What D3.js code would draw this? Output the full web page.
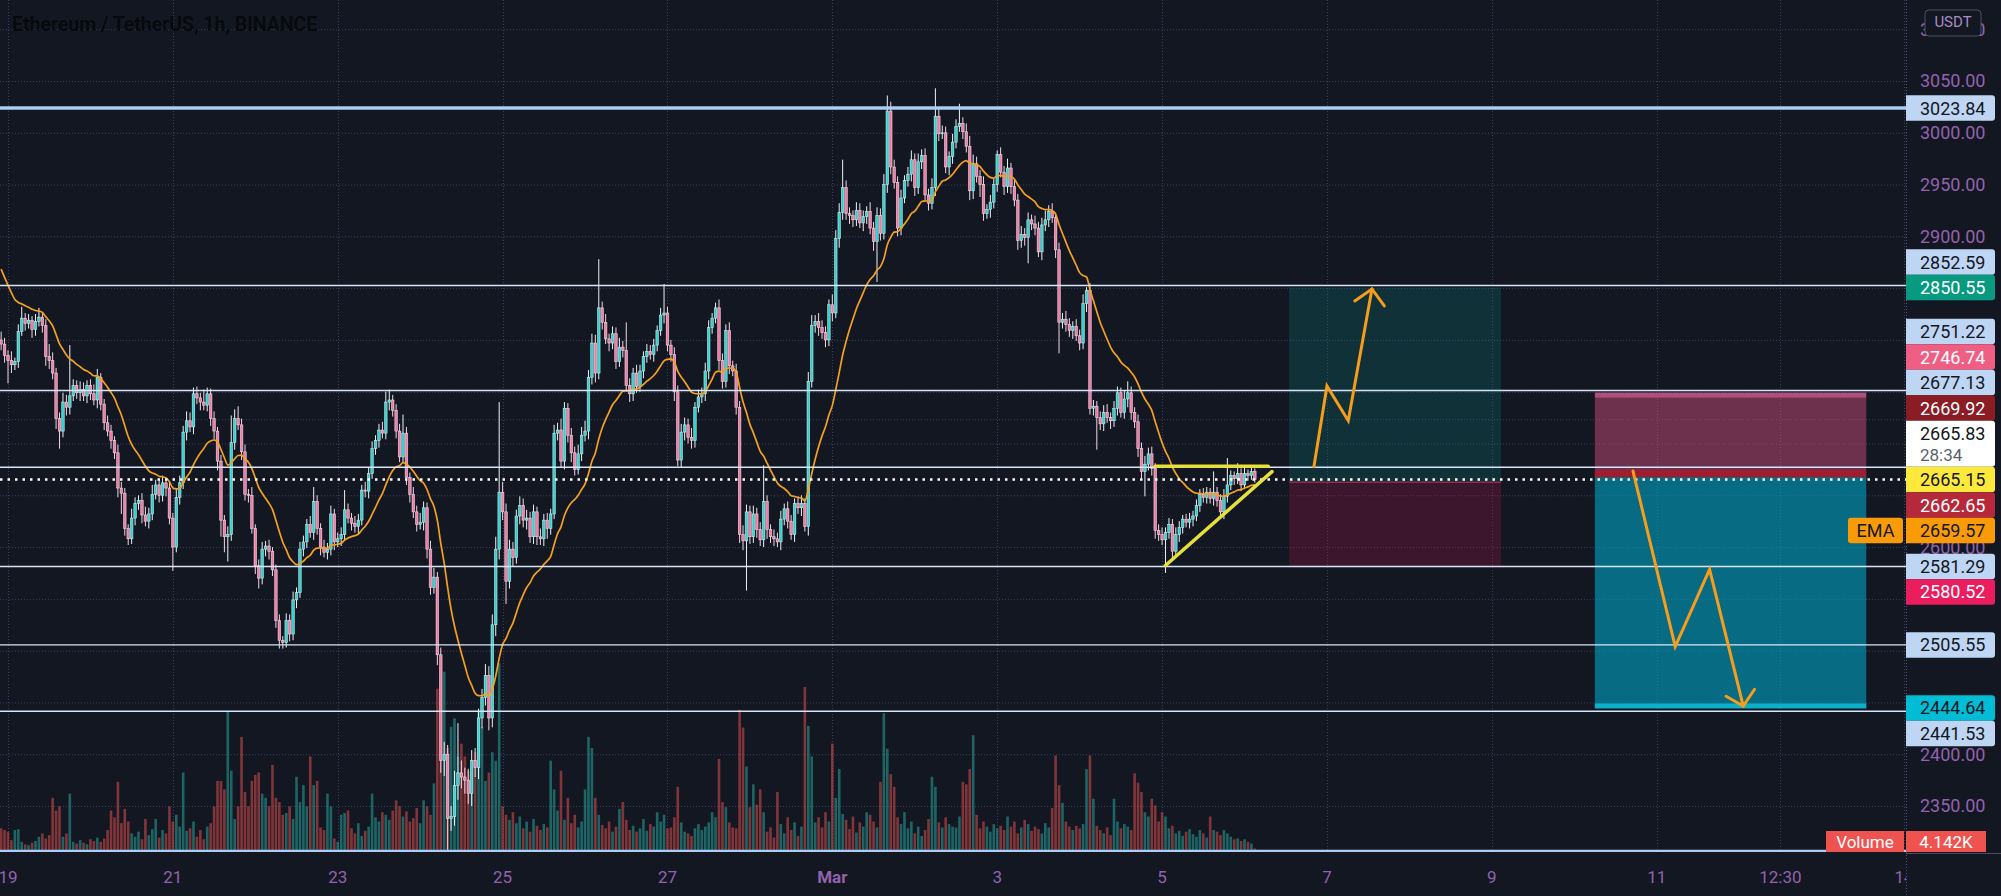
<!DOCTYPE html>
<html lang="en">
<head>
<meta charset="utf-8">
<script src="https://cdnjs.cloudflare.com/ajax/libs/d3/7.8.5/d3.min.js"></script>
<style>
    body { margin: 0; background: #131722; }
    svg { display: block; }
    text { font-family: Roboto, "Noto Sans", sans-serif; }
</style>
</head>
<body>
<svg id="chart" width="2001" height="896"></svg>
<script>

// hourly candles, hour 0 = 19 Feb 00:00, first candle at hour -2
var firstHour = -2;
var firstOpen = 2800;

var closes = [
2796,2785,2780,2776,2779,2808,2821,2816,2819,2810,
2818,2822,2814,2784,2780,2768,2724,2712,2740,2735,
2746,2756,2749,2752,2746,2756,2748,2742,2764,2738,
2720,2712,2703,2691,2657,2652,2618,2608,2628,2642,
2645,2631,2625,2632,2651,2660,2650,2662,2657,2628,
2600,2648,2662,2711,2722,2716,2748,2744,2740,2737,
2748,2724,2712,2683,2626,2610,2612,2701,2724,2718,
2692,2651,2650,2618,2582,2570,2598,2601,2596,2578,
2529,2510,2508,2529,2516,2549,2556,2598,2605,2622,
2614,2644,2618,2600,2595,2598,2632,2605,2608,2612,
2636,2628,2623,2620,2626,2655,2654,2671,2695,2703,
2713,2710,2740,2742,2732,2712,2687,2710,2667,2651,
2634,2622,2624,2638,2598,2561,2571,2496,2394,2400,
2338,2340,2370,2382,2378,2375,2362,2394,2387,2435,
2455,2476,2435,2525,2598,2653,2634,2567,2598,2590,
2630,2640,2626,2628,2610,2634,2610,2608,2626,2618,
2632,2710,2713,2683,2734,2708,2691,2675,2690,2708,
2712,2764,2797,2768,2831,2817,2801,2797,2806,2779,
2793,2790,2756,2748,2768,2755,2770,2784,2789,2786,
2795,2809,2824,2826,2795,2786,2750,2684,2711,2718,
2706,2703,2735,2745,2748,2770,2812,2821,2831,2780,
2760,2809,2775,2770,2735,2612,2606,2634,2610,2632,
2617,2607,2644,2617,2610,2608,2605,2627,2637,2625,
2612,2642,2638,2642,2620,2760,2814,2818,2812,2807,
2800,2834,2826,2898,2923,2947,2922,2920,2916,2925,
2913,2919,2924,2908,2895,2920,2903,2950,3021,2967,
2952,2908,2937,2954,2960,2974,2947,2972,2978,2940,
2932,2947,3016,2999,3000,2967,2977,2991,3006,3009,
3001,2987,2944,2970,2958,2950,2922,2926,2933,2950,
2979,2962,2948,2966,2948,2935,2896,2902,2899,2916,
2912,2908,2885,2911,2916,2924,2918,2887,2817,2820,
2815,2809,2813,2804,2797,2835,2848,2734,2736,2725,
2719,2730,2725,2722,2734,2749,2730,2743,2749,2730,
2721,2695,2673,2680,2690,2676,2616,2612,2607,2614,
2622,2596,2612,2619,2627,2624,2627,2630,2640,2651,
2648,2653,2647,2653,2645,2634,2649,2660,2669,2666,
2671,2660,2671,2669,2673,2665.15
];

// wick length above / below the body
var wickHi = [
8,6,5,9,4,7,11,5,6,4,
7,9,4,6,12,8,5,6,9,7,
49,6,5,8,7,5,6,9,8,4,
5,7,6,4,8,6,5,4,9,6,
5,7,8,6,9,5,6,7,4,6,
5,8,7,6,9,8,6,7,5,12,
6,5,7,4,6,5,8,26,9,12,
6,7,5,8,4,6,7,5,6,4,
5,6,4,7,6,8,5,7,6,5,
8,14,6,5,7,6,8,5,6,7,
19,6,5,7,6,5,8,6,7,5,
6,8,10,10,5,6,7,18,6,5,
7,6,9,6,5,8,9,5,7,12,
9,10,14,48,12,9,11,10,12,9,
8,11,9,10,12,87,10,8,9,7,
6,9,7,8,6,7,5,8,6,7,
5,8,7,11,6,5,7,6,9,8,
10,7,9,8,47,6,8,5,7,6,
9,6,27,7,5,8,6,5,7,6,
6,5,7,28,6,5,7,6,8,7,
6,9,5,7,6,8,7,5,5,8,
7,6,8,5,7,6,9,7,6,8,
6,7,35,6,5,7,6,8,5,7,
6,5,7,8,5,9,10,6,8,7,
6,5,10,8,9,27,7,6,5,8,
7,6,5,9,6,8,7,10,15,9,
7,6,8,5,7,9,6,8,6,7,
6,9,27,8,7,6,5,8,7,19,
6,8,10,9,7,6,8,5,7,6,
4,7,6,9,5,7,6,8,6,7,
5,8,6,7,9,6,8,5,7,6,
8,6,5,7,6,9,3,7,6,5,
6,7,8,5,7,6,5,8,11,6,
5,7,6,8,6,7,5,6,7,5,
6,5,7,6,4,5,6,5,6,5,
6,5,4,20,5,6,7,26,5,4,
10,5,6,4,5,3
];

var wickLo = [
6,7,22,8,5,6,4,7,5,8,
6,5,7,9,8,6,10,17,6,8,
7,5,6,8,5,7,6,5,8,6,
7,5,8,6,9,20,7,6,5,7,
6,8,5,7,6,5,7,6,8,6,
23,5,7,6,8,5,7,6,8,5,
6,7,8,9,16,15,24,6,7,5,
8,6,7,5,8,10,6,7,8,6,
7,8,6,5,7,6,8,5,7,6,
5,7,6,8,5,7,6,8,5,7,
6,5,7,6,8,5,6,7,5,6,
7,5,6,8,6,7,5,6,7,8,
6,7,5,8,9,7,6,10,12,15,
33,12,9,14,11,13,10,12,9,11,
10,8,12,9,11,10,8,22,7,9,
6,8,7,9,6,7,8,6,7,10,
6,5,7,6,8,7,9,6,5,7,
6,8,7,9,6,7,5,8,6,7,
5,7,6,8,7,6,5,7,6,5,
7,6,5,8,6,7,9,6,7,8,
6,8,7,5,6,7,8,6,5,9,
7,6,8,5,7,8,9,48,7,6,
8,6,7,9,6,7,5,8,6,7,
5,7,6,8,5,9,6,7,8,6,
7,6,8,5,9,7,6,8,7,6,
5,8,7,6,9,39,7,6,8,7,
6,8,7,5,6,7,8,6,7,5,
7,6,8,7,5,6,8,7,6,5,
7,6,9,8,6,12,7,5,8,6,
7,5,8,6,7,6,9,7,8,25,
6,7,5,8,6,7,5,8,30,6,
7,6,8,5,7,6,8,6,7,31,
6,7,5,8,6,7,5,6,8,7,
6,8,7,24,6,7,8,6,5,32,
6,8,5,7,6,5,6,7,5,6,
5,6,5,7,6,5,7,6,5,6,
5,6,4,5,4,3
];

// volume, thousands of ETH
var volumes = [
28,26,24,14,26,27,12,9,8,11,
13,18,22,16,20,64,49,54,18,22,
69,12,10,14,11,9,15,13,17,12,
16,26,49,41,83,34,51,36,22,18,
24,15,39,20,27,39,17,26,22,54,
36,44,30,94,25,28,36,18,26,15,
30,34,54,84,84,74,166,96,39,54,
136,71,54,84,91,94,69,64,54,103,
64,59,44,46,54,39,89,59,79,54,
113,79,84,29,26,69,54,16,12,44,
46,49,28,22,34,19,25,30,69,41,
36,47,44,38,49,61,54,42,48,36,
40,52,34,61,54,44,81,193,218,213,
123,148,158,113,128,113,96,94,118,166,
148,84,94,118,108,223,54,44,38,47,
34,42,28,36,24,39,31,26,33,29,
108,74,49,96,38,64,34,44,29,36,
74,136,123,64,44,32,28,36,24,30,
51,59,38,26,31,24,28,39,25,33,
30,47,36,44,28,29,41,77,35,24,
22,19,28,33,26,30,35,47,41,110,
59,53,35,29,28,168,147,101,53,80,
56,74,47,24,29,17,71,33,22,41,
26,35,19,30,195,149,113,35,41,29,
47,36,128,64,98,45,38,27,42,23,
35,30,47,44,36,29,83,164,122,92,
77,41,33,47,28,36,22,30,19,26,
39,89,77,35,29,41,33,30,29,42,
83,80,98,138,44,28,36,30,24,33,
28,31,26,42,30,36,22,29,38,33,
25,30,27,22,34,29,52,114,79,58,
36,30,26,31,28,33,98,114,63,31,
26,22,29,20,63,36,28,33,30,26,
93,82,71,47,42,63,55,36,47,42,
28,31,22,25,19,24,27,21,18,26,
22,17,42,26,24,20,26,22,18,15,
16,13,15,12,10,4.142
];

var emaLength = 20;
var emaSeed = 2876;

var priceTicks = [2350, 2400, 2450, 2500, 2550, 2600, 2650, 2700, 2750, 2800, 2850, 2900, 2950, 3000, 3050, 3100];
var extraGridPrices = [2723.5];
var timeTickHours = [0, 48, 96, 144, 192, 240, 288, 336, 384, 432, 480, 516, 552];
var timeTickLabels = ["19", "21", "23", "25", "27", "Mar", "3", "5", "7", "9", "11", "12:30", "14"];

// drawn horizontal lines
var linePrices = [3023.84, 2852.59, 2751.22, 2677.13, 2581.29, 2505.55, 2441.53, 2306];
var thickLinePrices = [3023.84, 2306];

// price-axis labels
var labelPrices = [3023.84, 2852.59, 2850.55, 2751.22, 2746.74, 2677.13, 2669.92, 2665.83, 2665.15, 2662.65, 2659.57, 2581.29, 2580.52, 2505.55, 2444.64, 2441.53];
var labelKinds = ["line", "line", "target", "line", "stop", "line", "entry", "bid", "last", "entry2", "ema", "line", "stop2", "line", "target2", "line"];
var countdownText = "28:34";

// position tools: [start hour, end hour], prices
var longSpan = [373, 434.7];
var longPrices = { target: 2850.55, entry: 2662.65, stop: 2580.52 };
var shortSpan = [462, 541];
var shortPrices = { stop: 2746.74, entry: 2669.92, target: 2444.64 };

// triangle and arrows: [hour, price]
var triangleTop = [[334, 2678], [366.9, 2678]];
var triangleBottom = [[336.9, 2582], [368, 2672.8]];
var upArrow = [[380.2, 2677.6], [384, 2755.5], [390.2, 2722], [397.1, 2849.2]];
var upArrowHead = [[392.1, 2837.6], [397.1, 2849.2], [400.7, 2832.8]];
var downArrow = [[473.1, 2673.4], [485.4, 2503.8], [495.4, 2578.5], [505.2, 2446.5]];
var downArrowHead = [[500.2, 2456], [505.2, 2446.5], [508.5, 2462.7]];

var titleText = "Ethereum / TetherUS, 1h, BINANCE";

/* ---------------------------------------------------------------- */

var W = 2001, H = 896, plotRight = 1906, plotBottom = 852;
var svg = d3.select("#chart");

var x = d3.scaleLinear().domain([0, 552]).range([8, 1904]);
var y = d3.scaleLinear().domain([2350, 3050]).range([806, 81]);
var yVol = d3.scaleLinear().domain([0, 260]).range([plotBottom, plotBottom - 220]);

var n = Math.min(closes.length, wickHi.length, wickLo.length, volumes.length);
var candles = [];
for (var k = 0; k < n; k++) {
    var o = k ? closes[k - 1] : firstOpen, c = closes[k];
    candles.push({
        t: firstHour + k, o: o, c: c,
        h: Math.max(o, c) + wickHi[k],
        l: Math.min(o, c) - wickLo[k],
        v: volumes[k], up: c >= o
    });
}
var alpha = 2 / (emaLength + 1), e = emaSeed;
candles.forEach(function(d) { e = alpha * d.c + (1 - alpha) * e; d.ema = e; });
var last = candles[candles.length - 1];

svg.append("rect").attr("width", W).attr("height", H).attr("fill", "#131722");

var defs = svg.append("defs");
defs.append("clipPath").attr("id", "plot")
    .append("rect").attr("width", plotRight).attr("height", plotBottom);

var plot = svg.append("g").attr("clip-path", "url(#plot)");

/* grid */
plot.selectAll(".hgrid")
    .data(priceTicks.concat(extraGridPrices))
    .enter().append("line")
    .attr("x1", 0).attr("x2", plotRight)
    .attr("y1", function(d) { return y(d) + 0.5; })
    .attr("y2", function(d) { return y(d) + 0.5; })
    .attr("stroke", "#3a3d62").attr("stroke-dasharray", "1,2");

plot.selectAll(".vgrid")
    .data(timeTickHours)
    .enter().append("line")
    .attr("x1", function(d) { return Math.round(x(d)) + 0.5; })
    .attr("x2", function(d) { return Math.round(x(d)) + 0.5; })
    .attr("y1", 0).attr("y2", plotBottom)
    .attr("stroke", "#3a3d62").attr("stroke-dasharray", "1,2");

/* position tools */
function band(g, t0, t1, p0, p1, fill) {
    g.append("rect")
        .attr("x", x(t0)).attr("width", x(t1) - x(t0))
        .attr("y", y(Math.max(p0, p1)))
        .attr("height", Math.abs(y(p0) - y(p1)))
        .attr("fill", fill);
}
var boxes = plot.append("g");
band(boxes, longSpan[0], longSpan[1], longPrices.target, longPrices.entry, "rgba(16,120,120,0.28)");
band(boxes, longSpan[0], longSpan[1], longPrices.entry, longPrices.stop, "rgba(180,20,80,0.25)");
boxes.append("line")
    .attr("x1", x(longSpan[0])).attr("x2", x(longSpan[1]))
    .attr("y1", y(longPrices.entry)).attr("y2", y(longPrices.entry))
    .attr("stroke", "#8c2b4c").attr("stroke-width", 1.5);

band(boxes, shortSpan[0], shortSpan[1], shortPrices.stop, shortPrices.entry, "rgba(220,80,130,0.45)");
band(boxes, shortSpan[0], shortSpan[1], shortPrices.entry, shortPrices.target, "rgba(0,160,190,0.62)");
boxes.append("rect")
    .attr("x", x(shortSpan[0])).attr("width", x(shortSpan[1]) - x(shortSpan[0]))
    .attr("y", y(shortPrices.stop) - 2.5).attr("height", 5)
    .attr("fill", "#b05079");
boxes.append("rect")
    .attr("x", x(shortSpan[0])).attr("width", x(shortSpan[1]) - x(shortSpan[0]))
    .attr("y", y(shortPrices.entry) - 4.5).attr("height", 7)
    .attr("fill", "#a11c2e");
boxes.append("rect")
    .attr("x", x(shortSpan[0])).attr("width", x(shortSpan[1]) - x(shortSpan[0]))
    .attr("y", y(shortPrices.target) - 4.5).attr("height", 5)
    .attr("fill", "#0bb0cb");

/* volume */
plot.selectAll(".vol")
    .data(candles)
    .enter().append("rect")
    .attr("x", function(d) { return x(d.t) - 1.3; })
    .attr("width", 2.6)
    .attr("y", function(d) { return yVol(d.v); })
    .attr("height", function(d) { return plotBottom - yVol(d.v); })
    .attr("fill", function(d) { return d.up ? "rgba(38,166,154,0.55)" : "rgba(239,83,80,0.5)"; });

/* candles */
plot.selectAll(".wick")
    .data(candles)
    .enter().append("line")
    .attr("x1", function(d) { return x(d.t); })
    .attr("x2", function(d) { return x(d.t); })
    .attr("y1", function(d) { return y(d.h); })
    .attr("y2", function(d) { return y(d.l); })
    .attr("stroke", function(d) { return d.up ? "#e8f4f6" : "#f4d6e2"; })
    .attr("stroke-width", 1);

plot.selectAll(".body")
    .data(candles)
    .enter().append("rect")
    .attr("x", function(d) { return x(d.t) - 1.3; })
    .attr("width", 2.6)
    .attr("y", function(d) { return y(Math.max(d.o, d.c)); })
    .attr("height", function(d) { return Math.max(1, Math.abs(y(d.o) - y(d.c))); })
    .attr("fill", function(d) { return d.up ? "#2cd3d0" : "#f27aa6"; })
    .attr("stroke", "rgba(255,255,255,0.75)")
    .attr("stroke-width", 0.6);

/* EMA */
plot.append("path")
    .datum(candles)
    .attr("fill", "none")
    .attr("stroke", "#f5a11b")
    .attr("stroke-width", 1.7)
    .attr("d", d3.line()
        .x(function(d) { return x(d.t); })
        .y(function(d) { return y(d.ema); })
        .curve(d3.curveMonotoneX));

/* horizontal lines */
plot.selectAll(".hline")
    .data(linePrices)
    .enter().append("line")
    .attr("x1", 0).attr("x2", plotRight)
    .attr("y1", function(d) { return y(d); })
    .attr("y2", function(d) { return y(d); })
    .attr("stroke", function(d) { return thickLinePrices.indexOf(d) >= 0 ? "#a9cdf5" : "#d6e6f8"; })
    .attr("stroke-width", function(d) { return thickLinePrices.indexOf(d) >= 0 ? 3.5 : 1.4; });

/* last price line */
plot.append("line")
    .attr("x1", 0).attr("x2", plotRight)
    .attr("y1", y(last.c)).attr("y2", y(last.c))
    .attr("stroke", "#ffffff").attr("stroke-width", 2.5)
    .attr("stroke-dasharray", "2.5,5");

/* triangle and arrows */
var pl = d3.line()
    .x(function(d) { return x(d[0]); })
    .y(function(d) { return y(d[1]); });

[triangleTop, triangleBottom].forEach(function(pts) {
    plot.append("path").attr("d", pl(pts))
        .attr("fill", "none").attr("stroke", "#e6e13a")
        .attr("stroke-width", 3.5).attr("stroke-linecap", "round");
});
[upArrow, upArrowHead, downArrow, downArrowHead].forEach(function(pts) {
    plot.append("path").attr("d", pl(pts))
        .attr("fill", "none").attr("stroke", "#f79d1c")
        .attr("stroke-width", 3).attr("stroke-linejoin", "miter")
        .attr("stroke-linecap", "round");
});

/* price axis */
svg.append("line")
    .attr("x1", plotRight + 0.5).attr("x2", plotRight + 0.5)
    .attr("y1", 0).attr("y2", H)
    .attr("stroke", "#5a4e88").attr("stroke-dasharray", "1,2");
svg.append("line")
    .attr("x1", plotRight).attr("x2", W)
    .attr("y1", plotBottom + 1.5).attr("y2", plotBottom + 1.5)
    .attr("stroke", "#4a4e5c");

var styles = {
    line:    { bg: "#bed6f4", fg: "#131722" },
    target:  { bg: "#089a80", fg: "#ffffff" },
    stop:    { bg: "#ef5f84", fg: "#ffffff" },
    entry:   { bg: "#8c1c24", fg: "#ffffff" },
    bid:     { bg: "#ffffff", fg: "#131722" },
    last:    { bg: "#fde83c", fg: "#131722" },
    entry2:  { bg: "#b5293a", fg: "#ffffff" },
    ema:     { bg: "#f89b06", fg: "#131722" },
    stop2:   { bg: "#ea1d5f", fg: "#ffffff" },
    target2: { bg: "#00bcd4", fg: "#131722" }
};

var labelH = 25.5, rowOff = 12.75;
var labels = labelPrices.map(function(p, i) {
    return { price: p, kind: labelKinds[i], h: labelKinds[i] === "bid" ? 46 : labelH };
});
var anchor = labels.filter(function(d) { return d.kind === "last"; })[0];
anchor.top = y(anchor.price) - rowOff;
var prevTop = anchor.top;
labels.filter(function(d) { return d.price > anchor.price; })
    .sort(function(a, b) { return a.price - b.price; })
    .forEach(function(d) {
        var bottom = Math.min(y(d.price) - rowOff + d.h, prevTop);
        d.top = bottom - d.h;
        prevTop = d.top;
    });
var prevBottom = anchor.top + anchor.h;
labels.filter(function(d) { return d.price < anchor.price; })
    .sort(function(a, b) { return b.price - a.price; })
    .forEach(function(d) {
        d.top = Math.max(y(d.price) - rowOff, prevBottom);
        prevBottom = d.top + d.h;
    });

var fmt = d3.format(".2f");
var axisG = svg.append("g");

axisG.selectAll(".tick")
    .data(priceTicks.filter(function(p) {
        var ty = y(p);
        return !labels.some(function(d) { return ty >= d.top && ty <= d.top + d.h; });
    }))
    .enter().append("text")
    .attr("x", 1920).attr("y", function(d) { return y(d); })
    .attr("dy", "0.36em")
    .attr("fill", "#9263ad").attr("font-size", 18)
    .text(function(d) { return fmt(d); });

function labelBox(g, x0, w, top, h, fill) {
    g.append("path")
        .attr("d", "M" + x0 + "," + top + "h" + (w - 3) + "q3,0 3,3v" + (h - 6) +
            "q0,3 -3,3h" + (-(w - 3)) + "z")
        .attr("fill", fill);
}

labels.forEach(function(d) {
    var s = styles[d.kind];
    labelBox(axisG, plotRight, 89, d.top, d.h, s.bg);
    axisG.append("text")
        .attr("x", 1920).attr("y", d.top + rowOff).attr("dy", "0.36em")
        .attr("fill", s.fg).attr("font-size", 18)
        .text(fmt(d.price));
    if (d.kind === "bid") {
        axisG.append("text")
            .attr("x", 1920).attr("y", d.top + 34).attr("dy", "0.36em")
            .attr("fill", "#5d606b").attr("font-size", 17)
            .text(countdownText);
    }
    if (d.kind === "ema") {
        axisG.append("rect")
            .attr("x", 1848).attr("width", 55).attr("y", d.top).attr("height", d.h)
            .attr("rx", 3).attr("fill", s.bg);
        axisG.append("text")
            .attr("x", 1875.5).attr("y", d.top + rowOff).attr("dy", "0.36em")
            .attr("text-anchor", "middle").attr("fill", s.fg).attr("font-size", 18)
            .text("EMA");
    }
});

/* volume label */
var volTop = Math.min(yVol(last.v) - 10.5, plotBottom - 21);
axisG.append("rect")
    .attr("x", 1826).attr("width", 78).attr("y", volTop).attr("height", 21)
    .attr("fill", "#ef5350");
axisG.append("text")
    .attr("x", 1865).attr("y", volTop + 11).attr("dy", "0.36em")
    .attr("text-anchor", "middle").attr("fill", "#ffffff").attr("font-size", 17)
    .text("Volume");
axisG.append("rect")
    .attr("x", plotRight).attr("width", 80).attr("y", volTop).attr("height", 21)
    .attr("fill", "#ef5350");
axisG.append("text")
    .attr("x", 1946).attr("y", volTop + 11).attr("dy", "0.36em")
    .attr("text-anchor", "middle").attr("fill", "#ffffff").attr("font-size", 17)
    .text(last.v.toFixed(3) + "K");

/* currency box */
axisG.append("rect")
    .attr("x", 1925).attr("y", 10).attr("width", 56).attr("height", 26)
    .attr("rx", 4).attr("fill", "#131722").attr("stroke", "#4e5160");
axisG.append("text")
    .attr("x", 1953).attr("y", 22).attr("dy", "0.36em")
    .attr("text-anchor", "middle").attr("fill", "#a58cc2").attr("font-size", 15)
    .text("USDT");

/* time axis */
defs.append("clipPath").attr("id", "taxis")
    .append("rect").attr("width", plotRight).attr("height", H);
svg.append("g").attr("clip-path", "url(#taxis)")
    .selectAll(".ttick")
    .data(timeTickHours)
    .enter().append("text")
    .attr("x", function(d) { return x(d); })
    .attr("y", 877).attr("dy", "0.36em")
    .attr("text-anchor", "middle")
    .attr("fill", "#9263ad").attr("font-size", 17)
    .attr("font-weight", function(d, i) { return timeTickLabels[i] === "Mar" ? 700 : 400; })
    .text(function(d, i) { return timeTickLabels[i]; });

/* title */
svg.append("text")
    .attr("x", 12).attr("y", 31)
    .attr("font-family", "'Open Sans', 'Noto Sans', sans-serif")
    .attr("font-weight", 600).attr("font-size", 19.5)
    .attr("fill", "#07090d")
    .text(titleText);

</script>
</body>
</html>
